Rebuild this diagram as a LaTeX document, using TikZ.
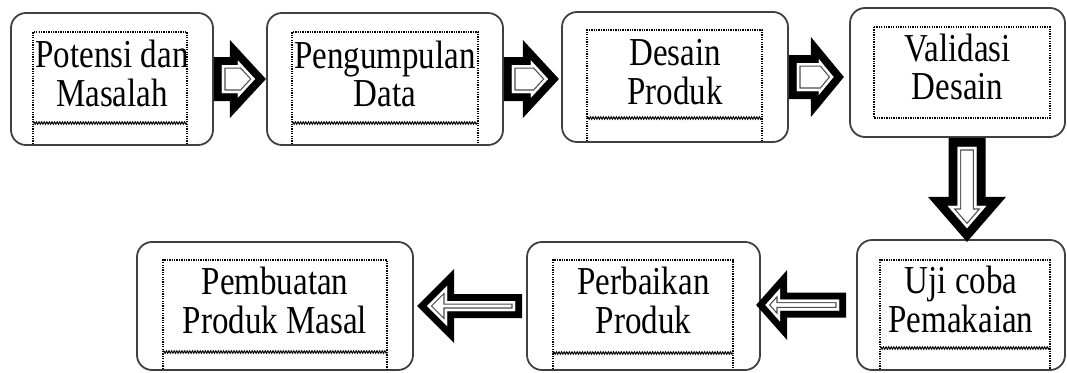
\documentclass[tikz,border=0pt]{standalone}
\usepackage{fontspec}
\setmainfont{Liberation Serif}
\usetikzlibrary{calc,decorations.pathmorphing}

\newcommand{\arrpoly}[6]{% #1 options, #2 L, #3 shaft half, #4 head half, #5 head length, #6 tail x
  \path[#1] (#6,-#3) -- ({#2-#5},-#3) -- ({#2-#5},-#4) -- (#2,0) -- ({#2-#5},#4) -- ({#2-#5},#3) -- (#6,#3) -- cycle;}

\newcommand{\blockarrow}[7]{% #1 tail, #2 angle, #3 L, #4 s, #5 h, #6 l, #7 t
  \begin{scope}[shift={(#1)},rotate=#2]
    \arrpoly{fill=black}{#3}{#4}{#5}{#6}{0}
    \pgfmathsetmacro{\ArSin}{sin(atan2(#5,#6))}
    \pgfmathsetmacro{\ArTip}{#3-#7/\ArSin}
    \pgfmathsetmacro{\ArBase}{#3-#6+#7}
    \pgfmathsetmacro{\ArHead}{(\ArTip-\ArBase)*#5/#6}
    \pgfmathsetmacro{\ArS}{#4-#7}
    \pgfmathsetmacro{\ArL}{\ArTip-\ArBase}
    \begin{scope}
      \arrpoly{clip}{\ArTip}{\ArS}{\ArHead}{\ArL}{#7}
      \arrpoly{fill=white}{\ArTip}{\ArS}{\ArHead}{\ArL}{#7}
      \arrpoly{draw=black!70, line width=7.4pt, line join=miter}{\ArTip}{\ArS}{\ArHead}{\ArL}{#7}
      \arrpoly{draw=white, line width=5pt, line join=miter}{\ArTip}{\ArS}{\ArHead}{\ArL}{#7}
    \end{scope}
  \end{scope}}

\tikzset{
  stagebox/.style={draw=black!75, line width=1.8pt, rounded corners=15pt, fill=white,
    inner sep=0pt, align=center, font=\fontsize{33}{31.7}\selectfont},
  innerdot/.style={draw=black, line width=1.3pt, dash pattern=on 1.3pt off 1.1pt},
  wavyline/.style={draw=black, line width=1pt, decorate,
    decoration={snake, amplitude=1.2pt, segment length=2.6pt}},
}
\newcommand{\stagetext}[1]{\scalebox{1}[1.2]{\begin{tabular}{@{}c@{}}#1\end{tabular}}}

\begin{document}
\begin{tikzpicture}[x=1pt,y=-1pt]
\useasboundingbox (0,0) rectangle (1067,372);

% boxes
\node[stagebox, minimum width=202pt, minimum height=132pt] (b1) at (112,79)
  {\stagetext{Potensi dan\\Masalah}};
\node[stagebox, minimum width=236pt, minimum height=132pt] (b2) at (385,79)
  {\stagetext{Pengumpulan\\Data}};
\node[stagebox, minimum width=226pt, minimum height=130pt] (b3) at (675,77)
  {\stagetext{Desain\\Produk}};
\node[stagebox, minimum width=215pt, minimum height=129pt] (b4) at (957.5,72.5)
  {\stagetext{Validasi\\Desain}};
\node[stagebox, minimum width=208pt, minimum height=130pt] (b5) at (961,305)
  {\stagetext{Uji coba\\Pemakaian}};
\node[stagebox, minimum width=233pt, minimum height=128pt] (b6) at (643.5,306)
  {\stagetext{Perbaikan\\Produk}};
\node[stagebox, minimum width=276pt, minimum height=128pt] (b7) at (275,306)
  {\stagetext{Pembuatan\\Produk Masal}};

% inner dotted frames
\draw[innerdot] (33,144) -- (33,32) -- (187,32) -- (187,144);
\draw[wavyline] (33,123) -- (187,123);
\draw[innerdot] (292,144) -- (292,32) -- (478,32) -- (478,144);
\draw[wavyline] (292,123) -- (478,123);
\draw[innerdot] (587,141) -- (587,30) -- (762,30) -- (762,141);
\draw[wavyline] (587,118) -- (762,118);
\draw[innerdot] (874,27) rectangle (1050,118);
\draw[innerdot] (880,369) -- (880,260) -- (1050,260) -- (1050,369);
\draw[wavyline] (880,348) -- (1050,348);
\draw[innerdot] (553,369) -- (553,260) -- (733,260) -- (733,369);
\draw[wavyline] (553,353) -- (733,353);
\draw[innerdot] (163,369) -- (163,260) -- (387,260) -- (387,369);
\draw[wavyline] (163,352) -- (387,352);

% block arrows
\blockarrow{b1.east}{0}{52}{22}{39}{36}{8}
\blockarrow{b2.east}{0}{55}{22}{39}{36}{8}
\blockarrow{b3.east}{0}{55}{22}{40}{33}{8}
\blockarrow{$(b4.south)+(9.5,0)$}{-90}{104}{18.5}{39}{45}{9}
\blockarrow{$(b5.west)+(-10,0)$}{180}{90}{12.5}{35}{31}{7}
\blockarrow{$(b6.west)+(-4,0)$}{180}{105}{12}{37}{37}{7}
\end{tikzpicture}
\end{document}
